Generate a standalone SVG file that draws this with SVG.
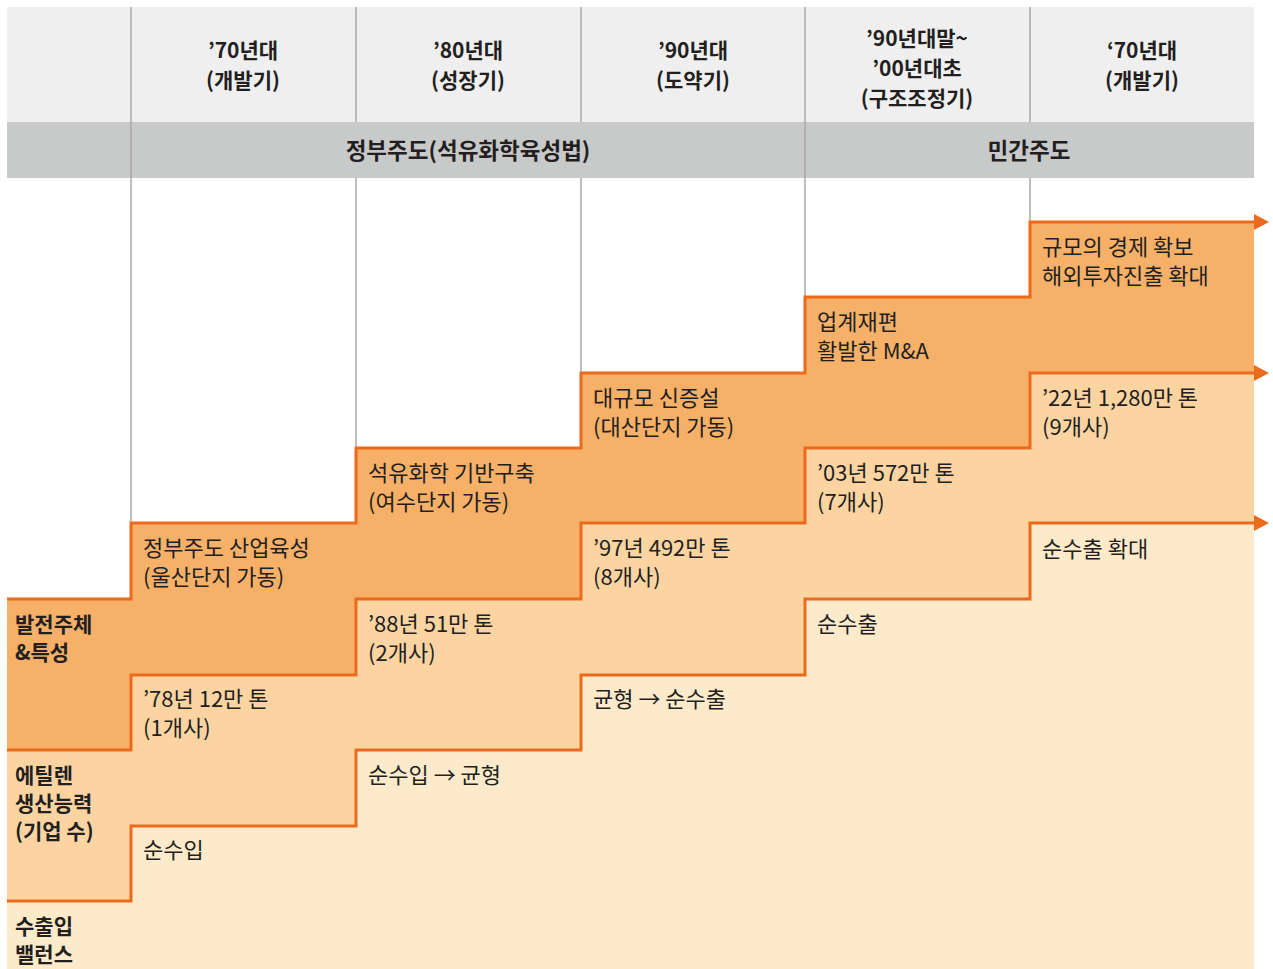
<svg xmlns="http://www.w3.org/2000/svg" width="1273" height="969" viewBox="0 0 1273 969">
<style>
text{font-family:"Noto Sans CJK KR","Noto Sans",sans-serif;fill:#231f20}
.h{font-size:21px;font-weight:700;text-anchor:middle}
.h2{font-size:22.5px;font-weight:700;text-anchor:middle}
.lb{font-size:21px;font-weight:700}
.t{font-size:22px;font-weight:400}
.vl{stroke:#a9a9a9;stroke-width:1.5;fill:none}
.st{stroke:#ec6a1c;stroke-width:3;fill:none;stroke-linejoin:miter}
</style>
<defs>
<marker id="arr" markerUnits="userSpaceOnUse" markerWidth="16" markerHeight="18" refX="0" refY="8" orient="auto" viewBox="0 0 16 16">
<path d="M0,0 L15,8 L0,16 Z" fill="#ec6a1c"/>
</marker>
</defs>
<rect width="1273" height="969" fill="#ffffff"/>
<g id="header">
<rect x="7" y="7" width="1247" height="115" fill="#efefef"/>
<rect x="7" y="122" width="1247" height="56" fill="#c8c9c9"/>
</g>
<g id="bands">
<polygon fill="#f6b068" points="7,599 131,599 131,523 356,523 356,448 581,448 581,373 805,373 805,297 1030,297 1030,222 1254,222 1254,373 1030,373 1030,448 805,448 805,523 581,523 581,599 356,599 356,675 131,675 131,750 7,750"/>
<polygon fill="#fbd4a2" points="7,750 131,750 131,675 356,675 356,599 581,599 581,523 805,523 805,448 1030,448 1030,373 1254,373 1254,523 1030,523 1030,599 805,599 805,675 581,675 581,750 356,750 356,826 131,826 131,901 7,901"/>
<polygon fill="#fdeaca" points="7,901 131,901 131,826 356,826 356,750 581,750 581,675 805,675 805,599 1030,599 1030,523 1254,523 1254,969 7,969"/>
</g>
<g id="gridlines">
<path class="vl" d="M131,7V523 M356,7V122 M356,178V448 M581,7V122 M581,178V373 M805,7V297 M1030,7V122 M1030,178V222"/>
</g>
<g id="connectors">
<polyline class="st" marker-end="url(#arr)" points="7,599 131,599 131,523 356,523 356,448 581,448 581,373 805,373 805,297 1030,297 1030,222 1254,222"/>
<polyline class="st" marker-end="url(#arr)" points="7,750 131,750 131,675 356,675 356,599 581,599 581,523 805,523 805,448 1030,448 1030,373 1254,373"/>
<polyline class="st" marker-end="url(#arr)" points="7,901 131,901 131,826 356,826 356,750 581,750 581,675 805,675 805,599 1030,599 1030,523 1254,523"/>
</g>
<g id="head-col1"><text class="h" x="243" y="58">’70년대</text><text class="h" x="243" y="88">(개발기)</text></g>
<g id="head-col2"><text class="h" x="468" y="58">’80년대</text><text class="h" x="468" y="88">(성장기)</text></g>
<g id="head-col3"><text class="h" x="693" y="58">’90년대</text><text class="h" x="693" y="88">(도약기)</text></g>
<g id="head-col4"><text class="h" x="917" y="46">’90년대말~</text><text class="h" x="917" y="76">’00년대초</text><text class="h" x="917" y="106">(구조조정기)</text></g>
<g id="head-col5"><text class="h" x="1142" y="58">‘70년대</text><text class="h" x="1142" y="88">(개발기)</text></g>
<g id="head-gov"><text class="h2" x="468" y="159">정부주도(석유화학육성법)</text></g>
<g id="head-private"><text class="h2" x="1029" y="159">민간주도</text></g>
<g id="label-dev"><text class="lb" x="15" y="632">발전주체</text><text class="lb" x="15" y="660">&amp;특성</text></g>
<g id="label-cap"><text class="lb" x="15" y="783">에틸렌</text><text class="lb" x="15" y="811">생산능력</text><text class="lb" x="15" y="839">(기업 수)</text></g>
<g id="label-bal"><text class="lb" x="15" y="934">수출입</text><text class="lb" x="15" y="962">밸런스</text></g>
<g id="c1-dev"><text class="t" x="143" y="556">정부주도 산업육성</text><text class="t" x="143" y="585">(울산단지 가동)</text></g>
<g id="c1-cap"><text class="t" x="143" y="707">’78년 12만 톤</text><text class="t" x="143" y="736">(1개사)</text></g>
<g id="c1-bal"><text class="t" x="143" y="858">순수입</text></g>
<g id="c2-dev"><text class="t" x="368" y="481">석유화학 기반구축</text><text class="t" x="368" y="510">(여수단지 가동)</text></g>
<g id="c2-cap"><text class="t" x="368" y="632">’88년 51만 톤</text><text class="t" x="368" y="661">(2개사)</text></g>
<g id="c2-bal"><text class="t" x="368" y="783">순수입 → 균형</text></g>
<g id="c3-dev"><text class="t" x="593" y="406">대규모 신증설</text><text class="t" x="593" y="435">(대산단지 가동)</text></g>
<g id="c3-cap"><text class="t" x="593" y="556">’97년 492만 톤</text><text class="t" x="593" y="585">(8개사)</text></g>
<g id="c3-bal"><text class="t" x="593" y="707">균형 → 순수출</text></g>
<g id="c4-dev"><text class="t" x="817" y="330">업계재편</text><text class="t" x="817" y="359">활발한 M&amp;A</text></g>
<g id="c4-cap"><text class="t" x="817" y="481">’03년 572만 톤</text><text class="t" x="817" y="510">(7개사)</text></g>
<g id="c4-bal"><text class="t" x="817" y="632">순수출</text></g>
<g id="c5-dev"><text class="t" x="1042" y="255">규모의 경제 확보</text><text class="t" x="1042" y="284">해외투자진출 확대</text></g>
<g id="c5-cap"><text class="t" x="1042" y="406">’22년 1,280만 톤</text><text class="t" x="1042" y="435">(9개사)</text></g>
<g id="c5-bal"><text class="t" x="1042" y="557">순수출 확대</text></g>
</svg>
